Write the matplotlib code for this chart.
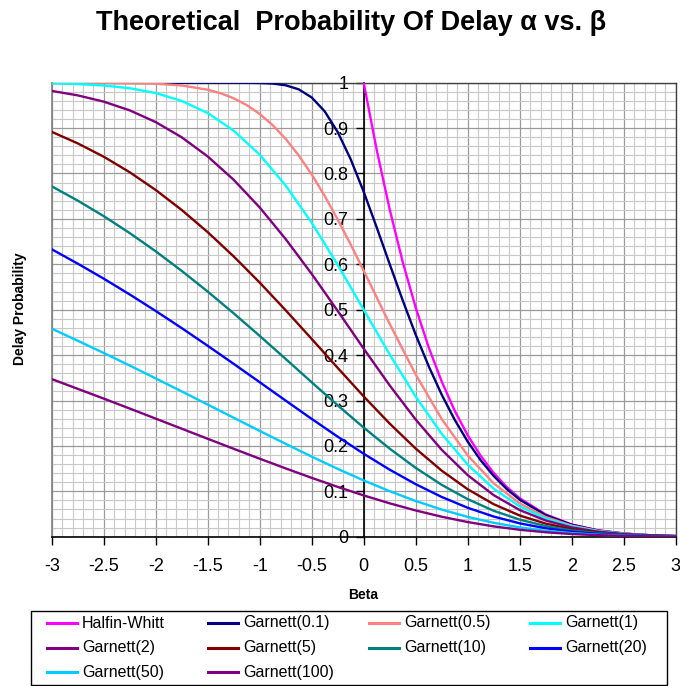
import matplotlib
matplotlib.use('Agg')
import matplotlib.pyplot as plt
from matplotlib.lines import Line2D
from matplotlib.patches import Rectangle
from matplotlib.ticker import MultipleLocator, FuncFormatter

plt.rcParams['font.family'] = ['Liberation Sans', 'DejaVu Sans']
plt.rcParams['axes.unicode_minus'] = False

# ---------------- data ----------------
beta = [-3.0, -2.75, -2.5, -2.25, -2.0, -1.75, -1.5, -1.25, -1.0, -0.75, -0.5, -0.25,
        0.0, 0.25, 0.5, 0.75, 1.0, 1.25, 1.5, 1.75, 2.0, 2.25, 2.5, 2.75, 3.0]

hw_beta = [0.0, 0.125, 0.25, 0.375, 0.5, 0.625, 0.75, 0.875, 1.0, 1.125, 1.25, 1.375,
           1.5, 1.75, 2.0, 2.25, 2.5, 2.75, 3.0]
halfin_whitt = [1.0, 0.852, 0.7209, 0.6054, 0.5046, 0.4170, 0.3418, 0.2775, 0.2234,
                0.1780, 0.1404, 0.1096, 0.0847, 0.0489, 0.0269, 0.0141, 0.0070, 0.0033,
                0.0015]

g01_beta = [-3.0, -2.5, -2.0, -1.5, -1.25, -1.0, -0.875, -0.75, -0.625, -0.5, -0.375,
            -0.25, -0.125, 0.0, 0.125, 0.25, 0.375, 0.5, 0.625, 0.75, 0.875, 1.0, 1.125,
            1.25, 1.375, 1.5, 1.75, 2.0, 2.25, 2.5, 2.75, 3.0]
garnett_01 = [1.0, 1.0, 1.0, 1.0, 1.0, 0.9994, 0.9981, 0.9943, 0.9854, 0.9675, 0.9369,
              0.8913, 0.8313, 0.7597, 0.6813, 0.6003, 0.5206, 0.4449, 0.3755, 0.3129,
              0.2575, 0.2094, 0.1683, 0.1338, 0.1051, 0.0816, 0.0475, 0.0263, 0.0138,
              0.0069, 0.0033, 0.0015]

g05_beta = [-3.0, -2.5, -2.0, -1.75, -1.5, -1.375, -1.25, -1.125, -1.0, -0.875, -0.75,
            -0.625, -0.5, -0.375, -0.25, -0.125, 0.0, 0.125, 0.25, 0.5, 0.75, 1.0, 1.25,
            1.5, 1.75, 2.0, 2.25, 2.5, 2.75, 3.0]
garnett_05 = [1.0, 0.9998, 0.9978, 0.9939, 0.9846, 0.9767, 0.9657, 0.9507, 0.9312, 0.9065,
              0.8761, 0.8399, 0.7979, 0.7506, 0.6988, 0.6435, 0.5858, 0.5271, 0.4686,
              0.3572, 0.2592, 0.1790, 0.1175, 0.0733, 0.0434, 0.0244, 0.0130, 0.0066,
              0.0031, 0.0014]

garnett_1 = [0.9987, 0.9970, 0.9938, 0.9878, 0.9773, 0.9599, 0.9332, 0.8944, 0.8413,
             0.7734, 0.6915, 0.5987, 0.5, 0.4013, 0.3085, 0.2266, 0.1587, 0.1057, 0.0668,
             0.0401, 0.0228, 0.0122, 0.0062, 0.0030, 0.0013]
garnett_2 = [0.9819, 0.9721, 0.9583, 0.9391, 0.9133, 0.8798, 0.8376, 0.7861, 0.7252,
             0.6555, 0.5788, 0.4973, 0.4142, 0.3332, 0.2580, 0.1914, 0.1356, 0.0915,
             0.0587, 0.0357, 0.0205, 0.0111, 0.0057, 0.0028, 0.0013]
garnett_5 = [0.8918, 0.8664, 0.8370, 0.8028, 0.7637, 0.7197, 0.6708, 0.6173, 0.5597,
             0.4987, 0.4356, 0.3718, 0.3090, 0.2491, 0.1941, 0.1455, 0.1045, 0.0716,
             0.0467, 0.0288, 0.0169, 0.0093, 0.0048, 0.0024, 0.0011]
garnett_10 = [0.7718, 0.7403, 0.7061, 0.6688, 0.6286, 0.5855, 0.5399, 0.4920, 0.4423,
              0.3915, 0.3401, 0.2894, 0.2403, 0.1939, 0.1516, 0.1142, 0.0827, 0.0571,
              0.0376, 0.0235, 0.0139, 0.0078, 0.0041, 0.0020, 0.0009]
garnett_20 = [0.6331, 0.6015, 0.5684, 0.5336, 0.4972, 0.4595, 0.4205, 0.3807, 0.3403,
              0.2997, 0.2595, 0.2203, 0.1827, 0.1476, 0.1157, 0.0875, 0.0637, 0.0444,
              0.0294, 0.0186, 0.0111, 0.0062, 0.0033, 0.0017, 0.0008]
garnett_50 = [0.4583, 0.4317, 0.4047, 0.3770, 0.3487, 0.3200, 0.2910, 0.2620, 0.2330,
              0.2044, 0.1764, 0.1495, 0.1239, 0.1002, 0.0787, 0.0597, 0.0437, 0.0306,
              0.0205, 0.0130, 0.0079, 0.0045, 0.0024, 0.0012, 0.0006]
garnett_100 = [0.3472, 0.3257, 0.3042, 0.2823, 0.2601, 0.2379, 0.2157, 0.1936, 0.1718,
               0.1504, 0.1296, 0.1097, 0.0909, 0.0735, 0.0578, 0.0440, 0.0323, 0.0227,
               0.0153, 0.0098, 0.0059, 0.0034, 0.0018, 0.0009, 0.0004]

series_labels = ['Halfin-Whitt', 'Garnett(0.1)', 'Garnett(0.5)', 'Garnett(1)',
                 'Garnett(2)', 'Garnett(5)', 'Garnett(10)', 'Garnett(20)',
                 'Garnett(50)', 'Garnett(100)']
series_colors = ['#FF00FF', '#000080', '#FF8080', '#00FFFF', '#800080', '#800000',
                 '#008080', '#0000FF', '#00CCFF', '#800080']
series_x = [hw_beta, g01_beta, g05_beta] + [beta] * 7
series_y = [halfin_whitt, garnett_01, garnett_05, garnett_1, garnett_2, garnett_5,
            garnett_10, garnett_20, garnett_50, garnett_100]

# ---------------- figure ----------------
W, H = 680, 686
fig = plt.figure(figsize=(W / 100, H / 100), dpi=100)
L, R, T, B = 51.7, 675.7, 82.7, 536.7
ax = fig.add_axes([L / W, 1 - B / H, (R - L) / W, (B - T) / H])
ax.set_xlim(-3, 3)
ax.set_ylim(0, 1)

ax.xaxis.set_major_locator(MultipleLocator(0.5))
ax.xaxis.set_minor_locator(MultipleLocator(0.1))
ax.yaxis.set_major_locator(MultipleLocator(0.1))
ax.yaxis.set_minor_locator(MultipleLocator(0.02))
ax.grid(which='minor', color='#c8c8c8', lw=0.8)
ax.grid(which='major', color='#9a9a9a', lw=0.9)
ax.set_axisbelow(True)


def _fmt(v, p):
    s = '%g' % round(v, 2)
    return '0' if s in ('-0', '0') else s


ax.xaxis.set_major_formatter(FuncFormatter(_fmt))
ax.yaxis.set_major_formatter(FuncFormatter(_fmt))

ax.spines['left'].set_position(('data', 0))
ax.spines['left'].set_color('black')
ax.spines['left'].set_linewidth(1.2)
ax.spines['bottom'].set_color('black')
ax.spines['bottom'].set_linewidth(1.2)
for s in ('top', 'right'):
    ax.spines[s].set_color('#404040')
    ax.spines[s].set_linewidth(1.0)
ax.axvline(-3, color='#808080', lw=1.2, clip_on=False, zorder=1)

ax.tick_params(which='minor', length=0)
ax.tick_params(axis='both', which='major', direction='out', length=6, width=1,
               labelsize=13, color='black')
ax.tick_params(axis='x', pad=9.5)
ax.tick_params(axis='y', pad=5)

for xs, ys, c, lab in zip(series_x, series_y, series_colors, series_labels):
    ax.plot(xs, ys, color=c, lw=1.7, label=lab, solid_joinstyle='round',
            solid_capstyle='round', zorder=3)

# titles and axis labels
fig.text(351 / W, 1 - 23 / H, 'Theoretical  Probability Of Delay α vs. β',
         ha='center', va='center', fontsize=19.5, fontweight='bold')
fig.text(363 / W, 1 - 595 / H, 'Beta', ha='center', va='center', fontsize=10,
         fontweight='bold')
fig.text(20 / W, 1 - 309 / H, 'Delay Probability', ha='center', va='center',
         fontsize=10, fontweight='bold', rotation=90)

# legend (row-major, 4 columns, in a boxed area)
fig.add_artist(Rectangle((31 / W, 1 - 685 / H), (667 - 31) / W, (685 - 611) / H,
                         transform=fig.transFigure, fill=False, edgecolor='black', lw=1))
col_x = [47, 208, 369, 530]
row_y = [623, 647.5, 672]
for i, (lab, c) in enumerate(zip(series_labels, series_colors)):
    r, k = divmod(i, 4)
    x0, y0 = col_x[k], row_y[r]
    fig.add_artist(Line2D([x0 / W, (x0 + 30) / W], [1 - y0 / H, 1 - y0 / H],
                          transform=fig.transFigure, color=c, lw=2.2))
    fig.text((x0 + 35) / W, 1 - y0 / H, lab, ha='left', va='center', fontsize=11.5)

fig.savefig('out.png', dpi=100)
